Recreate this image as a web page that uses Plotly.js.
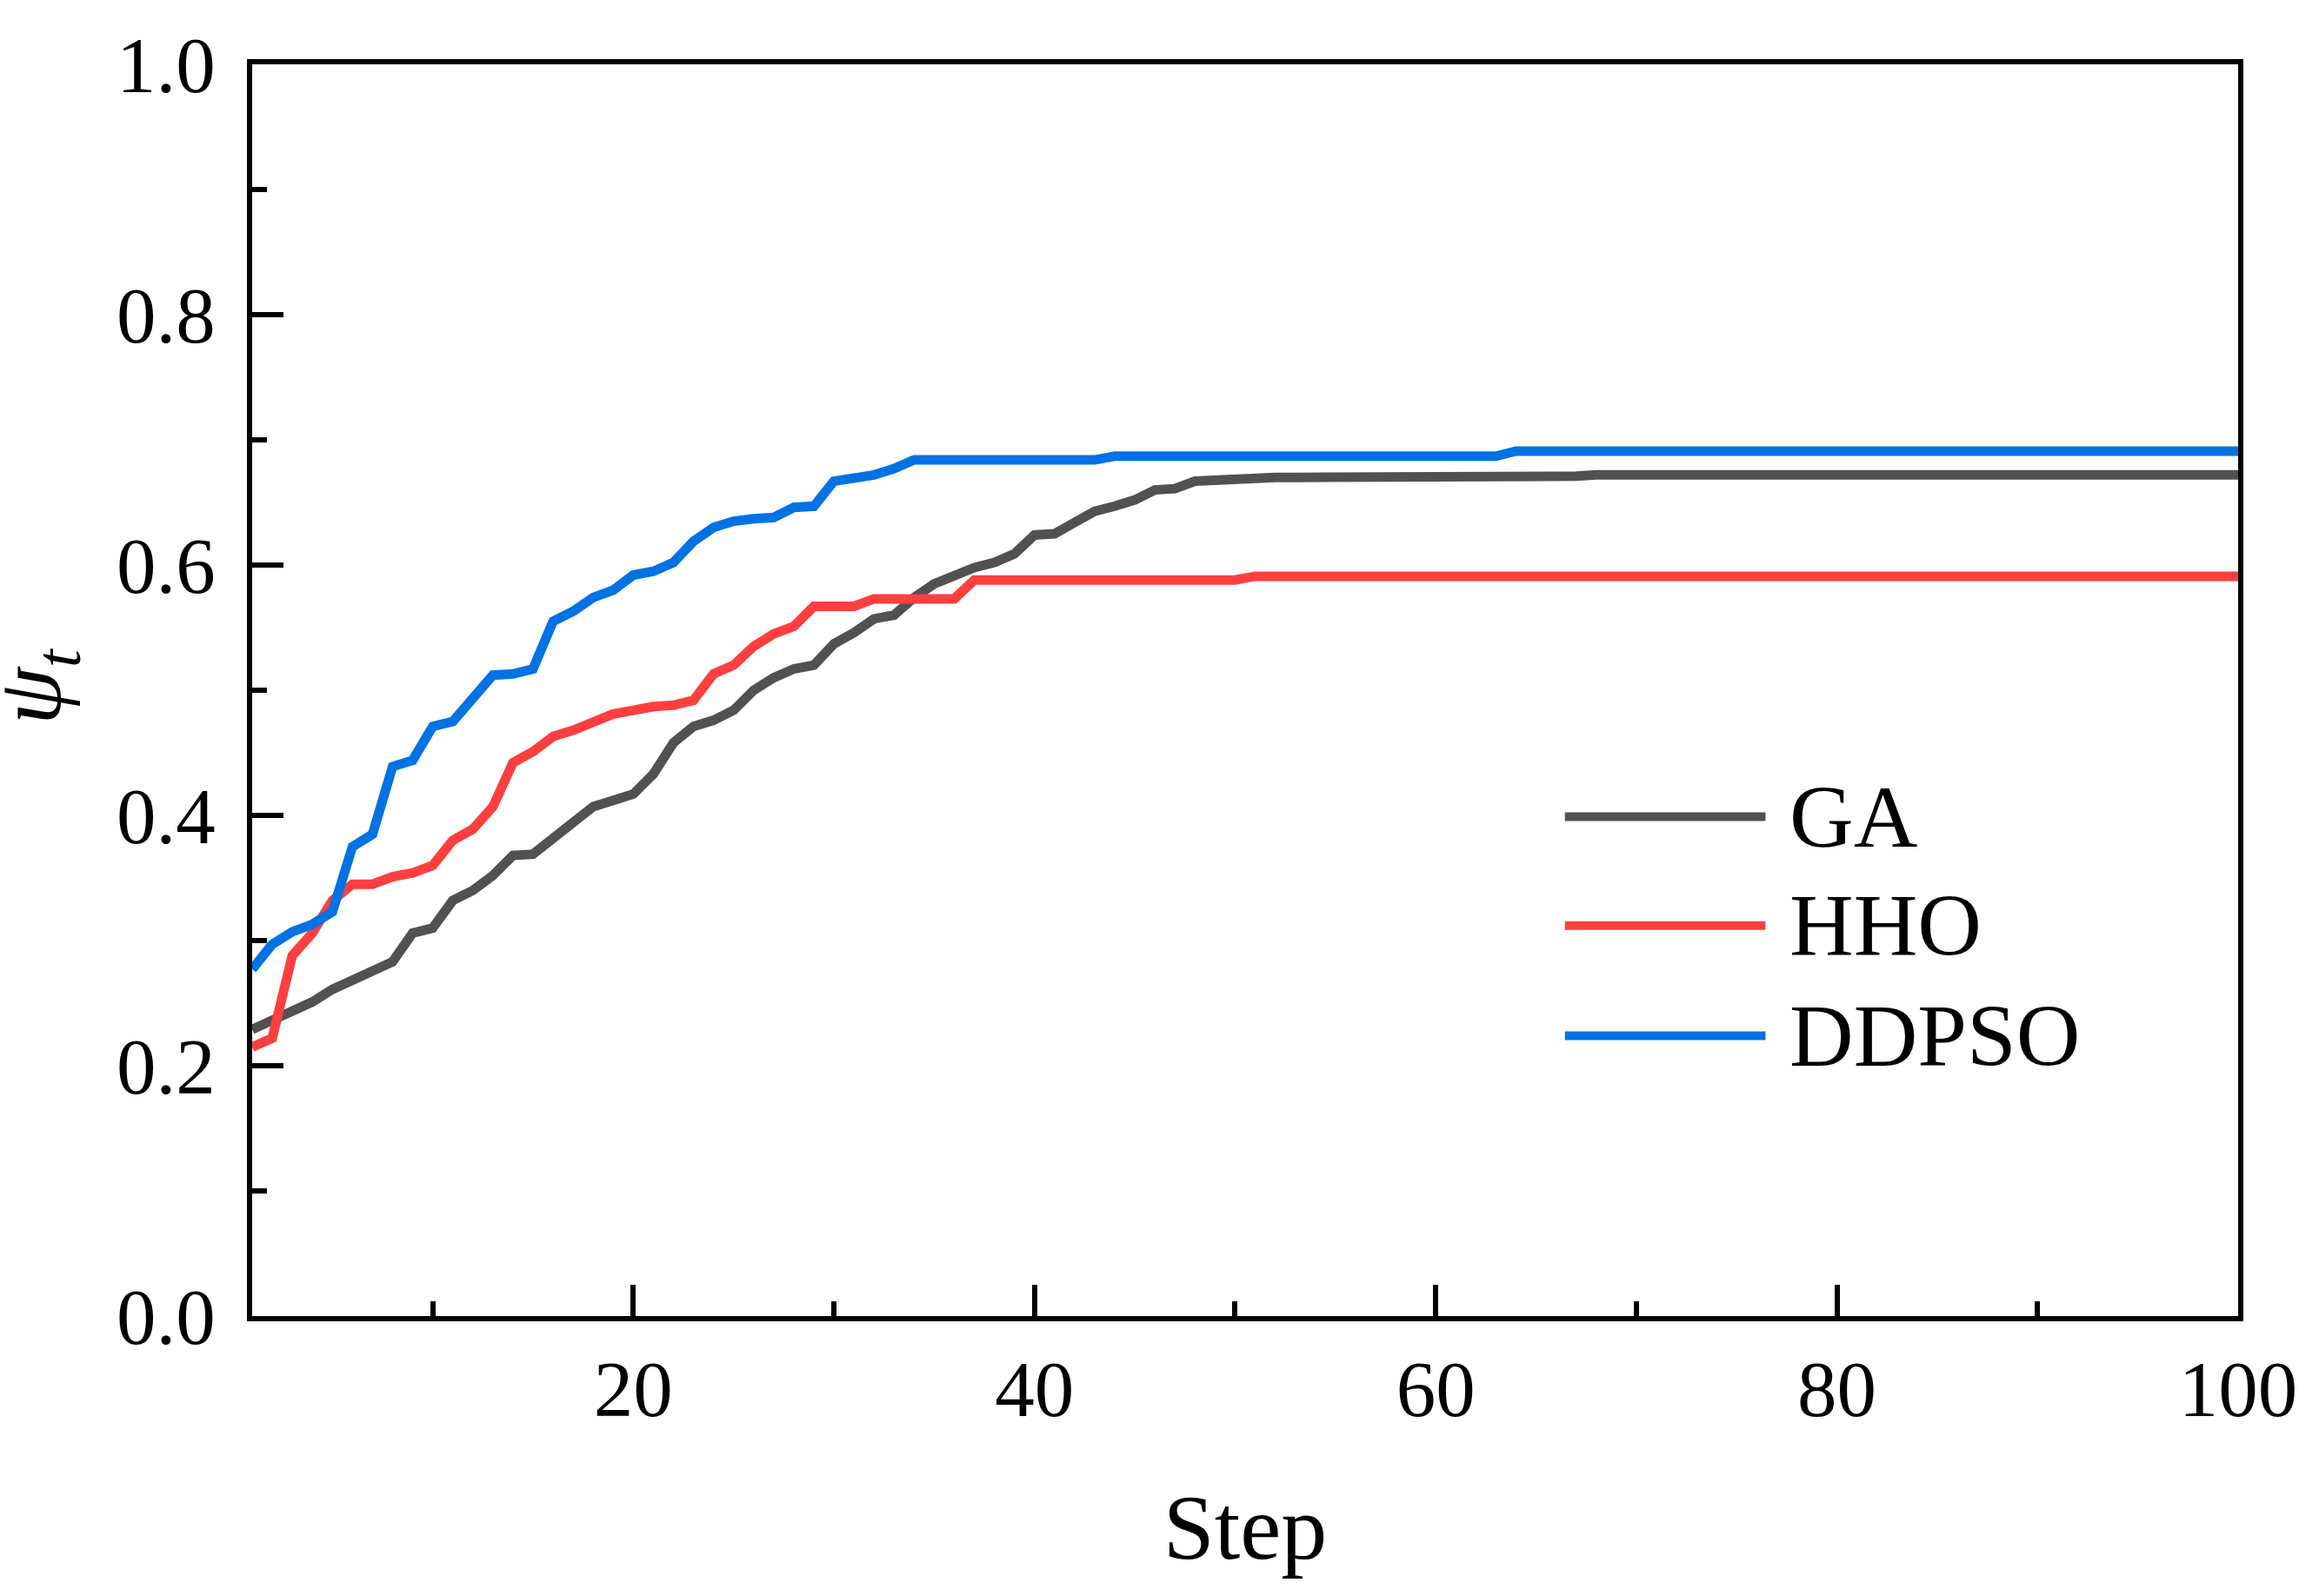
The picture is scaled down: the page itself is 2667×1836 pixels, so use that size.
<!DOCTYPE html>
<html>
<head>
<meta charset="utf-8">
<script src="https://cdn.plot.ly/plotly-3.0.1.min.js"></script>
<style>
  html, body { margin: 0; padding: 0; background: #fff; }
  #chart { width: 2667px; height: 1836px; }
</style>
</head>
<body>
<div id="chart"></div>
<script>
// step index 1..100
const steps = [];
for (let i = 1; i <= 100; i++) steps.push(i);

const seriesNames = ['GA', 'HHO', 'DDPSO'];

const gaValues = [
  0.229,0.236,0.244,0.251,0.261,0.269,0.277,0.283,0.306,0.310,
  0.332,0.340,0.352,0.368,0.369,0.382,0.396,0.407,0.412,0.417,
  0.433,0.458,0.471,0.476,0.484,0.500,0.510,0.517,0.520,0.537,
  0.546,0.557,0.560,0.574,0.585,0.592,0.598,0.602,0.609,0.624,
  0.625,0.634,0.643,0.647,0.652,0.660,0.661,0.667,0.668,0.669,
  0.670,0.670,0.670,0.670,0.670,0.671,0.671,0.671,0.671,0.671,
  0.671,0.671,0.671,0.671,0.671,0.671,0.671,0.672,0.672,0.672,
  0.672,0.672,0.672,0.672,0.672,0.672,0.672,0.672,0.672,0.672,
  0.672,0.672,0.672,0.672,0.672,0.672,0.672,0.672,0.672,0.672,
  0.672,0.672,0.672,0.672,0.672,0.672,0.672,0.672,0.672,0.672
];

const hhoValues = [
  0.215,0.222,0.288,0.306,0.332,0.345,0.345,0.351,0.354,0.360,
  0.380,0.389,0.407,0.442,0.451,0.463,0.468,0.474,0.481,0.484,
  0.487,0.488,0.492,0.513,0.520,0.535,0.545,0.551,0.567,0.567,
  0.567,0.573,0.573,0.573,0.573,0.573,0.588,0.588,0.588,0.588,
  0.588,0.588,0.588,0.588,0.588,0.588,0.588,0.588,0.588,0.588,
  0.591,0.591,0.591,0.591,0.591,0.591,0.591,0.591,0.591,0.591,
  0.591,0.591,0.591,0.591,0.591,0.591,0.591,0.591,0.591,0.591,
  0.591,0.591,0.591,0.591,0.591,0.591,0.591,0.591,0.591,0.591,
  0.591,0.591,0.591,0.591,0.591,0.591,0.591,0.591,0.591,0.591,
  0.591,0.591,0.591,0.591,0.591,0.591,0.591,0.591,0.591,0.591
];

const ddpsoValues = [
  0.277,0.297,0.307,0.313,0.323,0.375,0.385,0.439,0.444,0.471,
  0.475,0.495,0.512,0.513,0.517,0.555,0.563,0.574,0.580,0.592,
  0.595,0.602,0.619,0.630,0.635,0.637,0.638,0.646,0.647,0.667,
  0.669,0.672,0.677,0.684,0.684,0.684,0.684,0.684,0.684,0.684,
  0.684,0.684,0.684,0.687,0.687,0.687,0.687,0.687,0.687,0.687,
  0.687,0.687,0.687,0.687,0.687,0.687,0.687,0.687,0.687,0.687,
  0.687,0.687,0.687,0.691,0.691,0.691,0.691,0.691,0.691,0.691,
  0.691,0.691,0.691,0.691,0.691,0.691,0.691,0.691,0.691,0.691,
  0.691,0.691,0.691,0.691,0.691,0.691,0.691,0.691,0.691,0.691,
  0.691,0.691,0.691,0.691,0.691,0.691,0.691,0.691,0.691,0.691
];

const COLORS = ['#515151', '#ff3f3f', '#0072e3'];
const FONT = 'Liberation Serif, Times New Roman, serif';

const traces = [gaValues, hhoValues, ddpsoValues].map((vals, i) => ({
  type: 'scatter',
  mode: 'lines',
  name: seriesNames[i],
  x: steps,
  y: vals,
  line: { color: COLORS[i], width: 11 },
}));

// legend drawn by hand (paper coords) so the row spacing matches
const legendRows = [0.399, 0.312, 0.224];
const shapes = legendRows.map((y, i) => ({
  type: 'line', xref: 'paper', yref: 'paper',
  x0: 0.661, x1: 0.762, y0: y, y1: y,
  line: { color: COLORS[i], width: 10 },
}));
const annotations = legendRows.map((y, i) => ({
  xref: 'paper', yref: 'paper', x: 0.773, y: y,
  xanchor: 'left', yanchor: 'middle',
  text: seriesNames[i], showarrow: false,
  font: { family: FONT, size: 102, color: '#000' },
}));
// y axis title as a rotated annotation
annotations.push({
  xref: 'paper', yref: 'paper', x: -0.109, y: 0.503,
  xanchor: 'center', yanchor: 'middle', textangle: -90,
  text: '<i>ψ</i><sub><i>t</i></sub>', showarrow: false,
  font: { family: FONT, size: 106, color: '#000' },
});

const axisBase = {
  showgrid: false,
  zeroline: false,
  showline: true,
  linecolor: '#000',
  linewidth: 6,
  mirror: true,
  ticks: 'inside',
  ticklen: 36,
  tickwidth: 6,
  tickcolor: '#000',
  tickfont: { family: FONT, size: 91, color: '#000' },
};

Plotly.newPlot('chart', traces, {
  width: 2667,
  height: 1836,
  paper_bgcolor: '#fff',
  plot_bgcolor: '#fff',
  margin: { l: 290, r: 93, t: 74, b: 322 },
  showlegend: false,
  shapes: shapes,
  annotations: annotations,
  xaxis: Object.assign({}, axisBase, {
    range: [1, 100],
    tick0: 0, dtick: 20,
    ticklabelstandoff: 0,
    minor: { dtick: 10, ticks: 'inside', ticklen: 17, tickwidth: 6, tickcolor: '#000' },
    title: { text: 'Step', font: { family: FONT, size: 106, color: '#000' }, standoff: 73 },
  }),
  yaxis: Object.assign({}, axisBase, {
    range: [0, 1],
    tick0: 0, dtick: 0.2,
    tickformat: '.1f',
    ticklabelstandoff: 18,
    minor: { dtick: 0.1, ticks: 'inside', ticklen: 17, tickwidth: 6, tickcolor: '#000' },
  }),
}, { displayModeBar: false });
</script>
</body>
</html>
